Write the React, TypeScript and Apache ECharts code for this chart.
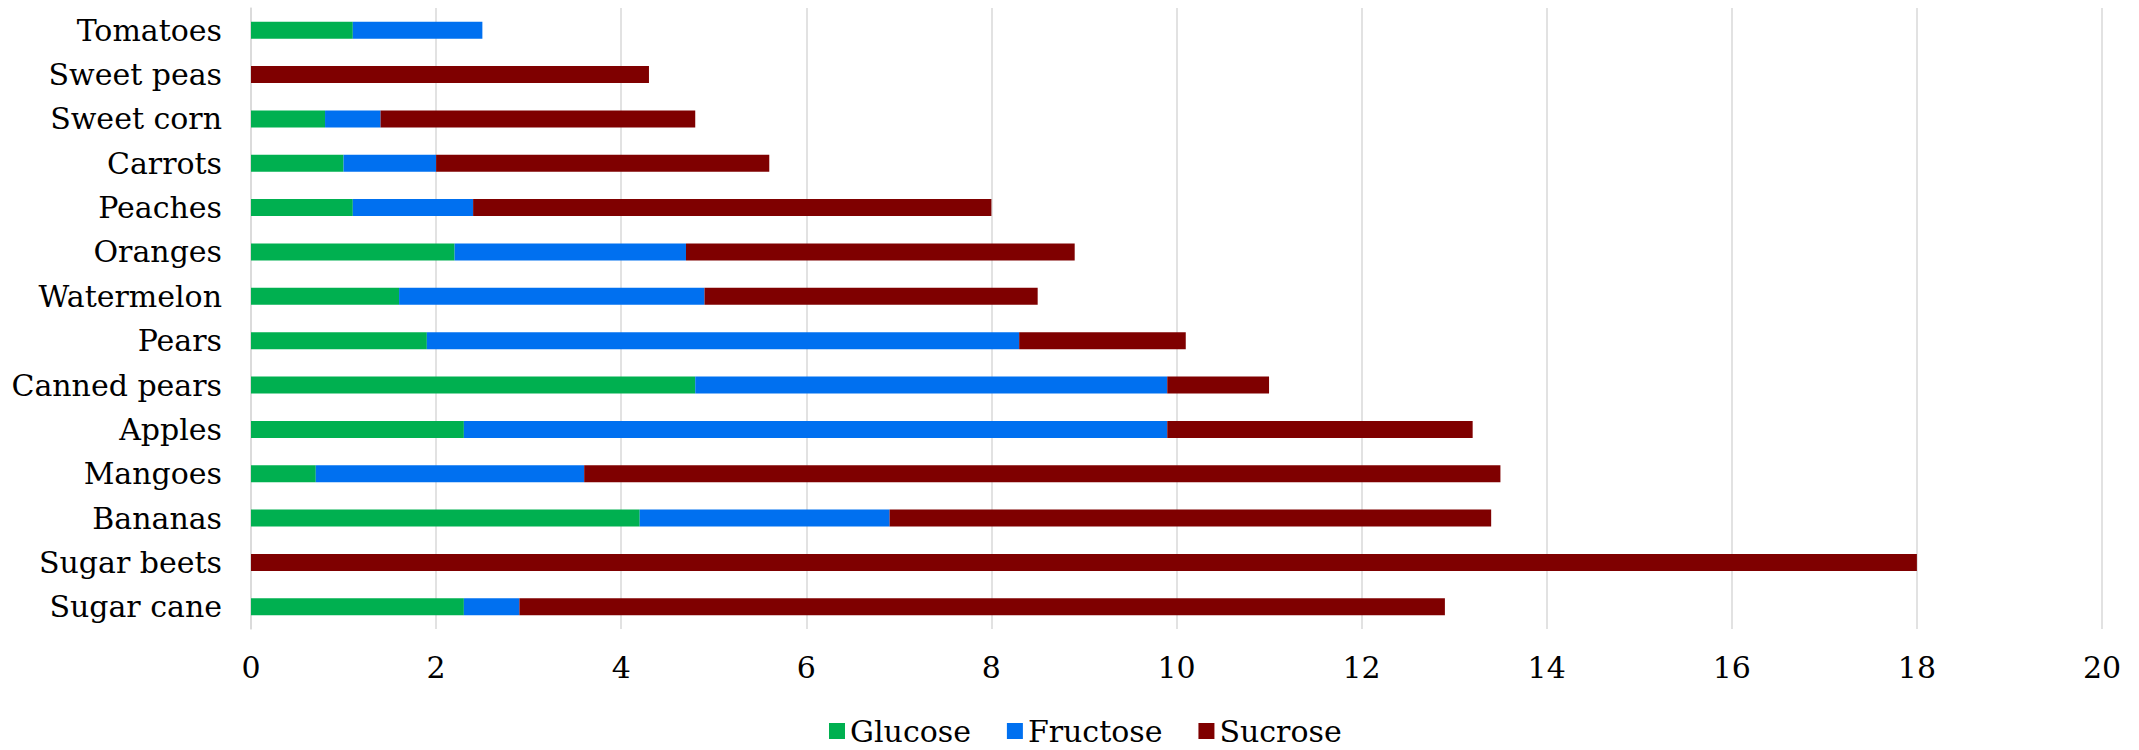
import React, { useEffect, useRef } from "react";
import * as echarts from "echarts";

const categories = [
  "Tomatoes", "Sweet peas", "Sweet corn", "Carrots", "Peaches", "Oranges", "Watermelon",
  "Pears", "Canned pears", "Apples", "Mangoes", "Bananas", "Sugar beets", "Sugar cane",
];
const glucose = [1.1, 0, 0.8, 1.0, 1.1, 2.2, 1.6, 1.9, 4.8, 2.3, 0.7, 4.2, 0, 2.3];
const fructose = [1.4, 0, 0.6, 1.0, 1.3, 2.5, 3.3, 6.4, 5.1, 7.6, 2.9, 2.7, 0, 0.6];
const sucrose = [0, 4.3, 3.4, 3.6, 5.6, 4.2, 3.6, 1.8, 1.1, 3.3, 9.9, 6.5, 18.0, 10.0];
const xTicks = { min: 0, max: 20, interval: 2 };

const FONT = "DejaVu Serif";

export default function App() {
  const ref = useRef<HTMLDivElement>(null);
  useEffect(() => {
    if (!ref.current) return;
    const chart = echarts.init(ref.current, undefined, { renderer: "svg" });
    const mk = (name: string, data: number[], color: string) => ({
      name,
      type: "bar",
      stack: "total",
      data,
      barWidth: 17,
      itemStyle: { color },
      emphasis: { disabled: true },
    });
    chart.setOption({
      animation: false,
      textStyle: { fontFamily: FONT },
      grid: { left: 251, right: 37, top: 8, bottom: 121, containLabel: false },
      xAxis: {
        type: "value",
        min: xTicks.min,
        max: xTicks.max,
        interval: xTicks.interval,
        axisLine: { show: false },
        axisTick: { show: false },
        splitLine: { show: true, lineStyle: { color: "#d9d9d9", width: 1.5 } },
        axisLabel: { color: "#000", fontFamily: FONT, fontSize: 30, margin: 23 },
      },
      yAxis: {
        type: "category",
        data: categories,
        inverse: true,
        axisLine: { show: true, lineStyle: { color: "#d9d9d9", width: 1.5 } },
        axisTick: { show: false },
        axisLabel: { color: "#000", fontFamily: FONT, fontSize: 30, margin: 29 },
      },
      legend: {
        left: 824,
        top: 711,
        icon: "rect",
        itemWidth: 16,
        itemHeight: 16,
        itemGap: 36,
        selectedMode: false,
        textStyle: { color: "#000", fontFamily: FONT, fontSize: 30 },
        data: ["Glucose", "Fructose", "Sucrose"],
      },
      series: [
        mk("Glucose", glucose, "#00b050"),
        mk("Fructose", fructose, "#0070f0"),
        mk("Sucrose", sucrose, "#7f0000"),
      ],
    });
    return () => chart.dispose();
  }, []);
  return (
    <div
      ref={ref}
      style={{ position: "fixed", left: 0, top: 0, width: 2139, height: 750, background: "#fff" }}
    />
  );
}
